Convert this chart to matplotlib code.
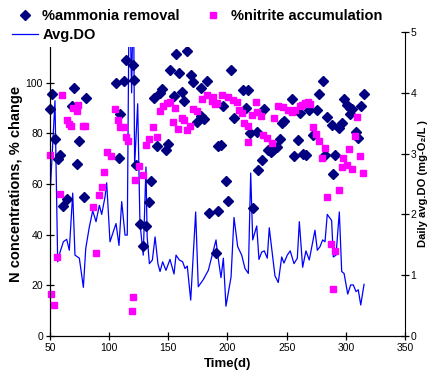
import matplotlib
matplotlib.use('Agg')
import matplotlib.pyplot as plt
from matplotlib.lines import Line2D

plt.rcParams['font.family'] = ['Liberation Sans', 'DejaVu Sans']

# ── values ───────────────────────────────────────────────────────────────────
amm_day = [50, 51.4, 54.2, 56.5, 58.5, 60.7, 64.1, 68.3, 70.6, 73.1, 74.8, 78.5,
           80.2, 105.5, 108.3, 109.4, 112.8, 114.5, 120, 121, 122.7, 126, 128.8,
           131.1, 133.9, 135.4, 137.9, 140.7, 143, 144.9, 148, 150, 151.4, 154.8,
           156.5, 159, 161.3, 163.5, 165.5, 168.9, 170.6, 174, 177.3, 177.6, 179.9,
           182.9, 184.6, 190.3, 191.7, 192.3, 194.5, 196.5, 198.7, 200.7, 203,
           205.5, 213.4, 215.4, 217.6, 219, 221.3, 224.7, 226, 228.9, 231.1, 234,
           236.5, 238.7, 241.6, 244.4, 245.8, 247.7, 254.5, 256.2, 259.5, 261.3,
           263.5, 266.5, 268.8, 272.5, 275.4, 277.6, 280.4, 282.8, 284.5, 288,
           289.4, 290.8, 294.5, 296.5, 298.6, 300.7, 303.2, 305, 303.3, 308.6,
           310.5, 312.6, 315.4]
amm_pct = [89.7, 95.7, 77.7, 69.8, 71.5, 51.5, 54.2, 90.9, 97.9, 67.9, 77.0, 55.0,
           94.0, 99.9, 70.2, 87.7, 100.5, 109.0, 107.0, 101.0, 67.6, 44.3, 35.7,
           43.6, 52.8, 61.3, 94.0, 75.1, 95.9, 97.6, 73.5, 75.9, 104.9, 94.6,
           111.5, 103.8, 96.3, 92.9, 112.6, 102.9, 100.4, 84.3, 86.7, 97.9, 85.8,
           100.7, 48.5, 32.7, 49.5, 75.1, 75.4, 90.9, 61.0, 53.1, 104.9,
           85.9, 97.0, 89.9, 97.0, 80.1, 50.5, 80.4, 65.6, 69.6, 89.6, 73.5,
           72.8, 73.5, 74.6, 77.7, 84.0, 84.9, 93.7, 70.9, 77.5, 88.0,
           71.9, 71.4, 89.2, 79.4, 89.3, 95.7, 100.5, 71.6, 86.6, 83.4,
           64.0, 71.5, 82.3, 84.1, 93.6, 91.1, 90.0, 89.8, 87.7, 80.4,
           78.1, 90.6, 95.7]

nit_day = [50, 50.8, 53.6, 55.7, 58.5, 60.4, 64.1, 66.1, 67.7, 69.7, 72.5, 73.9,
           78.2, 79.6, 86.1, 88.6, 91.4, 93.7, 95.6, 97.9, 101.3, 104.9, 107.7,
           109.2, 112.8, 114.2, 116.2, 119.5, 120.5, 121.8, 125.5, 128.3, 131.1,
           133.9, 137.3, 140.2, 143, 145.2, 148.6, 151.4, 154.2, 155.6, 158.4,
           161.3, 163.2, 165.5, 168.3, 170.6, 174, 178.2, 182.4, 186.6, 188, 189.4,
           190.9, 195.6, 200.7, 204.9, 207.8, 209.7, 212, 214.2, 217.6, 217.1,
           220.4, 224.1, 224.6, 228.3, 230.3, 233.6, 237.9, 239.6, 243, 247.2,
           250.9, 254.2, 257, 261.3, 262.7, 265.5, 268.3, 269.7, 272.5, 274.8,
           277.6, 279.6, 282.4, 283.8, 287.2, 288.9, 290.8, 294.2, 296.5, 297.9,
           300.7, 302.9, 305, 307.8, 309.7, 312, 314.8]
nit_pct = [71.5, 16.5, 12.3, 31.1, 56.0, 95.3, 85.1, 83.8, 83.0, 90.0, 88.7, 91.0,
           83.0, 83.0, 51.1, 32.9, 55.5, 58.8, 64.7, 72.5, 70.9, 89.6, 85.4,
           82.5, 82.5, 78.4, 76.8, 10.0, 15.5, 61.4, 67.2, 63.6, 75.5,
           77.7, 82.5, 78.4, 89.0, 90.6, 92.0, 92.5, 84.3, 90.0, 81.9,
           86.0, 85.4, 81.4, 83.0, 89.6, 89.0, 93.6, 95.3, 92.6, 94.3, 91.7,
           92.0, 95.3, 94.3, 93.3, 92.2, 89.3, 88.0, 84.0, 83.0, 76.4,
           87.4, 92.2, 88.3, 86.7, 79.4, 78.1, 76.2, 86.0, 90.9, 90.2,
           89.3, 88.3, 89.3, 90.9, 91.3, 92.0, 92.2, 91.7, 82.5, 79.8,
           76.8, 70.2, 74.2, 55.0, 36.4, 18.5, 33.7, 57.7, 66.7, 70.2,
           67.6, 73.8, 65.9, 78.8, 86.4, 70.9, 64.5]

do_day = [50, 54.2, 56.5, 58.5, 61.3, 64.1, 66.3, 69.2, 71.1, 74.8, 78.2, 80.2,
          83.2, 86.1, 88.9, 91.7, 93.7, 96.5, 97.9, 100.7, 105.8, 108.3, 110.6,
          113.4, 115.3, 117, 119, 120.5, 121.5, 124.1, 126, 128.8, 131.1, 132.1,
          134, 136.5, 138.8, 141.2, 143, 145.2, 148, 151.4, 154.8, 156.5, 159.3,
          162.1, 164.1, 166, 168.9, 173.1, 175.3, 179.6, 183.8, 190.3, 191.4,
          194.5, 196.5, 198.7, 203, 205.5, 208.6, 212, 214.8, 217.6, 219.6,
          221.3, 224.7, 226.6, 228.9, 231.1, 233.6, 235.3, 238.2, 240.1, 242.9,
          245.8, 247.7, 250.5, 253, 256.2, 259, 260.7, 263.5, 266.3, 269.1,
          273.9, 275.9, 278.2, 280.4, 282.4, 284.3, 288, 289.4, 291.7, 294.5,
          296.5, 298.5, 301.6, 304.1, 306.3, 308.6, 310.5, 312.6, 315.4]
do_val = [2.3, 3.87, 1.22, 1.38, 1.55, 1.59, 1.41, 2.35, 1.33, 1.28, 0.80, 1.44,
          1.79, 2.06, 1.88, 2.15, 2.00, 2.29, 2.52, 1.55, 1.85, 1.49, 2.21,
          1.66, 1.66, 6.0, 4.0, 6.0, 2.8, 3.82, 1.86, 1.33, 2.78, 1.63,
          1.19, 1.25, 1.63, 1.19, 1.06, 1.22, 1.08, 1.26, 1.02, 1.33, 1.25,
          1.22, 1.11, 1.15, 0.59, 2.04, 0.81, 0.93, 1.08, 1.58, 1.38,
          0.96, 1.28, 0.49, 0.97, 1.95, 1.47, 1.33, 1.11, 1.03, 2.68,
          1.58, 1.81, 1.26, 1.38, 1.40, 1.28, 1.78, 1.30, 0.99, 0.88,
          1.30, 1.20, 1.33, 1.40, 1.19, 1.28, 1.88, 1.13, 1.40, 1.25,
          1.74, 1.41, 1.47, 1.58, 1.55, 2.00, 1.90, 1.30, 1.33, 2.04,
          1.06, 1.03, 0.69, 0.84, 0.84, 0.73, 0.76, 0.51, 0.85]

NAVY = '#000080'
MAGENTA = '#FF00FF'
BLUE = '#0000FF'

fig = plt.figure(figsize=(4.29, 3.80), dpi=100)
ax = fig.add_axes([50 / 429, 44 / 380, 355 / 429, 304 / 380])
ax2 = ax.twinx()

ax2.plot(do_day, do_val, color=BLUE, lw=0.9)
ax.plot(amm_day, amm_pct, 'D', color=NAVY, ms=4.8, mec=NAVY, clip_on=False)
ax.plot(nit_day, nit_pct, 's', color=MAGENTA, ms=5.0, mec=MAGENTA, clip_on=False)
ax.set_zorder(ax2.get_zorder() + 1)
ax.patch.set_visible(False)

ax.set_xlim(50, 350)
ax.set_ylim(0, 120)
ax2.set_ylim(0, 5)
ax.set_xticks(range(50, 351, 50))
ax.set_yticks(range(0, 101, 20))
ax2.set_yticks(range(0, 6))

for a in (ax, ax2):
    a.spines['top'].set_visible(False)
    a.tick_params(direction='inout', length=6, width=0.9, labelsize=7.5, pad=2)
ax2.tick_params(pad=1)
ax.spines['right'].set_visible(False)

ax.set_xlabel('Time(d)', fontsize=9.5, fontweight='bold', labelpad=4)
ax.set_ylabel('N concentrations, % change', fontsize=10.5, fontweight='bold', labelpad=2)
ax2.set_ylabel('Daily avg.DO (mg-O\u2082/L )', fontsize=8,
               fontweight='bold', rotation=90, va='center')
ax2.yaxis.set_label_coords(1.05, 0.5)

handles = [
    Line2D([], [], marker='D', ls='none', color=NAVY, ms=4.8),
    Line2D([], [], color=BLUE, lw=0.9),
    Line2D([], [], marker='s', ls='none', color=MAGENTA, ms=5.0),
]
labels = ['%ammonia removal', 'Avg.DO', '%nitrite accumulation']
leg = fig.legend(handles, labels, loc='upper left', bbox_to_anchor=(0.0, 1.008),
                 ncol=2, frameon=True, fancybox=False, framealpha=1,
                 facecolor='white', edgecolor='none', borderpad=0.3,
                 handlelength=1.8, handletextpad=0.3, columnspacing=1.4,
                 labelspacing=0.4, prop={'weight': 'bold', 'size': 10.5})

fig.savefig('out.png', dpi=100)
